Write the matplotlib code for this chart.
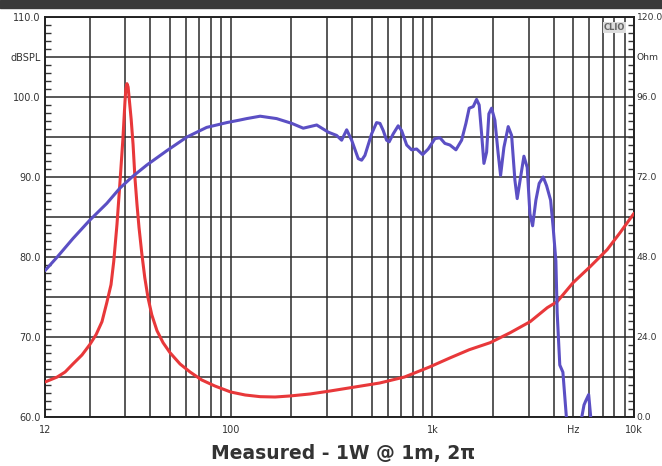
import matplotlib
matplotlib.use("Agg")
import matplotlib.pyplot as plt
from matplotlib.patches import Rectangle
import numpy as np

# ---- data ----
spl_freq = [12, 13.8, 16.5, 20, 24.3, 28.2, 32.4, 38.4, 48.3, 60.7, 76, 95.6, 110, 120,
            140, 169, 201, 229, 267, 305, 335, 355, 376, 398, 429, 446, 463, 500, 529,
            550, 571, 593, 611, 640, 677, 704, 746, 789, 836, 895, 954, 1030, 1091, 1154,
            1222, 1309, 1397, 1467, 1523, 1595, 1657, 1707, 1755, 1802, 1858, 1907, 1967,
            2042, 2121, 2180, 2264, 2378, 2472, 2567, 2635, 2740, 2845, 2954, 3047, 3142,
            3262, 3387, 3546, 3687, 3859, 3973, 4098, 4160, 4285, 4440, 4620, 4800,
            5450, 5510, 5650, 5760, 5960, 6100, 6300]
spl_db = [78.3, 80.0, 82.3, 84.6, 86.7, 88.6, 90.0, 91.5, 93.3, 95.0, 96.2, 96.8, 97.1, 97.3,
          97.6, 97.3, 96.7, 96.1, 96.5, 95.6, 95.2, 94.6, 95.9, 94.6, 92.3, 92.1, 92.7, 95.4, 96.8,
          96.7, 95.8, 94.6, 94.4, 95.4, 96.4, 95.8, 94.0, 93.4, 93.5, 92.8, 93.5, 94.8, 94.9, 94.2,
          94.0, 93.4, 94.6, 96.7, 98.6, 98.8, 99.7, 99.0, 95.4, 91.7, 93.1, 97.9, 98.6,
          97.1, 92.9, 90.2, 93.7, 96.3, 95.2, 89.6, 87.3, 90.0, 92.6, 91.2, 85.4, 83.9,
          87.1, 89.2, 90.0, 88.9, 87.1, 83.7, 79.5, 73.0, 66.5, 65.6, 60.0, 55.0,
          55.0, 60.0, 61.5, 62.0, 62.8, 60.0, 55.0]

imp_freq = [12, 13.8, 15.1, 16.5, 18.3, 20, 21.5, 23, 24.3, 25.5, 26.3, 27.3, 28.2, 29.2,
            29.9, 30.2, 30.6, 31.0, 31.3, 32.1, 32.8, 33.5, 34.3, 35.1, 36.3, 37.5, 38.9,
            40.6, 43.1, 46.2, 50, 56.1, 62.9, 71.9, 83.5, 100, 118, 140, 166, 196, 247,
            311, 413, 548, 728, 968, 1220, 1526, 1936, 2435, 3055, 3715, 4160, 4990, 6060,
            7360, 8530, 10000]
imp_ohm = [10.5, 12.0, 13.5, 15.9, 18.6, 21.7, 24.7, 28.6, 34.3, 39.7, 46.6, 57.8, 69.8, 83.3,
           94.5, 98.4, 100.0, 99.0, 96.3, 89.3, 81.8, 71.9, 63.8, 56.9, 48.7, 41.8, 35.8,
           30.7, 25.9, 22.3, 19.3, 15.9, 13.5, 11.1, 9.3, 7.5, 6.6, 6.1, 6.0, 6.3, 6.9,
           7.8, 9.0, 10.2, 12.0, 15.0, 17.7, 20.2, 22.3, 25.3, 28.6, 32.8, 34.6, 40.3, 45.1,
           50.2, 55.3, 61.1]

x_tick_vals = [12, 100, 1000, 5000, 10000]
x_tick_labels = ["12", "100", "1k", "Hz", "10k"]
y_tick_vals = [60, 65, 70, 75, 80, 85, 90, 95, 100, 105, 110]
y_tick_labels = ["60.0", "", "70.0", "", "80.0", "", "90.0", "", "100.0", "dBSPL", "110.0"]
z_tick_vals = [0, 24, 48, 72, 96, 108, 120]
z_tick_labels = ["0.0", "24.0", "48.0", "72.0", "96.0", "Ohm", "120.0"]
title = "Measured - 1W @ 1m, 2\u03c0"

# ---- figure ----
fig = plt.figure(figsize=(6.62, 4.66), dpi=100)
fig.patch.set_facecolor("white")
L, R, B, T = 45/662, 634/662, 1-417/466, 1-17/466
ax = fig.add_axes([L, B, R-L, T-B])
ax.set_xscale("log")
ax.set_xlim(12, 10000)
ax.set_ylim(60, 110)

grid_x = [f*d for d in (10, 100, 1000) for f in range(1, 10) if f*d > 12]
grid_x = sorted(set([g for g in grid_x if g < 10000]))
ax.set_xticks(grid_x, minor=True)
ax.set_xticks(x_tick_vals)
ax.set_xticklabels(x_tick_labels)
ax.tick_params(axis="x", which="both", length=0, labelsize=7, colors="#333333", pad=6)
ax.grid(True, axis="x", which="both", color="#2a2a2a", lw=1.1)

ax.set_yticks(y_tick_vals)
ax.set_yticklabels(y_tick_labels)
ax.set_yticks(np.arange(60, 111, 1), minor=True)
ax.tick_params(axis="y", which="major", length=0, labelsize=7, colors="#333333", pad=3)
ax.tick_params(axis="y", which="minor", direction="in", length=4, width=1, color="#333333")
ax.grid(True, axis="y", which="major", color="#2a2a2a", lw=1.1)
for s in ax.spines.values():
    s.set_color("#222222")
    s.set_linewidth(1.2)

ax2 = ax.twinx()
ax2.set_ylim(0, 120)
ax2.set_yticks(z_tick_vals)
ax2.set_yticklabels(z_tick_labels)
ax2.set_yticks(np.arange(0, 120.1, 2.4), minor=True)
ax2.tick_params(axis="y", which="major", length=0, labelsize=6.6, colors="#333333", pad=2)
ax2.tick_params(axis="y", which="minor", direction="in", length=4, width=1, color="#333333")
for s in ax2.spines.values():
    s.set_color("#222222")
    s.set_linewidth(1.2)

ax2.plot(imp_freq, imp_ohm, color="#e8383a", lw=2.2, solid_joinstyle="round",
         solid_capstyle="round", zorder=3)
ax3 = ax.twinx()
ax3.set_ylim(60, 110)
ax3.axis("off")
ax3.plot(spl_freq, spl_db, color="#5b4fc4", lw=2.2, solid_joinstyle="round",
         solid_capstyle="round", zorder=4)

ax.text(0.985, 0.985, "CLIO", transform=ax.transAxes, ha="right", va="top",
        fontsize=6, color="#666666", fontweight="bold",
        bbox=dict(boxstyle="square,pad=0.1", fc="#dddddd", ec="none"))

fig.text(343/662, 1-453/466, title, ha="center", va="center", fontsize=13.5,
         fontweight="heavy", color="#333333", family="DejaVu Sans")

fig.add_artist(Rectangle((0, 1-8/466), 1, 8/466, transform=fig.transFigure,
                         color="#3a3a3a", zorder=10))

fig.savefig("out.png", dpi=100)
